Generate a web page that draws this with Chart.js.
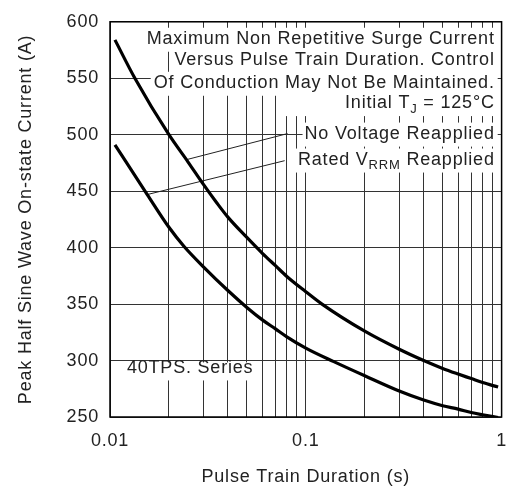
<!DOCTYPE html>
<html>
<head>
<meta charset="utf-8">
<script src="https://cdn.jsdelivr.net/npm/chart.js@4.4.1/dist/chart.umd.min.js"></script>
<style>
  html, body { margin: 0; padding: 0; background: #fff; }
  canvas { display: block; }
</style>
</head>
<body>
<canvas id="surge" width="520" height="493"></canvas>
<script>
// Pulse train duration (s) and peak current (A)
const durationNoVoltage = [0.0106, 0.0134, 0.02, 0.025, 0.03, 0.035, 0.04, 0.05, 0.06, 0.07, 0.08, 0.1, 0.121, 0.2, 0.3, 0.4, 0.5, 0.6, 0.7, 0.8, 0.96];
const currentNoVoltage = [584, 550, 500, 476, 456, 440, 427, 409, 395, 384, 374.5, 361, 350, 326, 310, 300, 293, 288, 284, 280.5, 276.5];

const durationRated = [0.0106, 0.0155, 0.02, 0.0239, 0.03, 0.04, 0.05, 0.06, 0.07, 0.08, 0.1, 0.139, 0.2, 0.3, 0.4, 0.5, 0.6, 0.7, 0.8, 0.96];
const currentRated = [491, 447, 418, 401, 383, 362, 347, 336, 328, 321, 311, 299, 286.5, 273, 265, 260, 257, 254, 252, 249.5];

// leader lines from the labels to the curves
const leaderNoVoltageX = [0.0247, 0.0807];
const leaderNoVoltageY = [478, 501];
const leaderRatedX = [0.0155, 0.078];
const leaderRatedY = [447, 477];

const xTickLabels = ['0.01', '0.1', '1'];
const yTicks = [250, 300, 350, 400, 450, 500, 550, 600];

const FONT = '"Liberation Sans", Arial, sans-serif';
const INK = '#222';

// grid at 1..9 of every decade
const xGrid = [];
[0.01, 0.1].forEach(d => { for (let m = 1; m < 10; m++) xGrid.push(+(d * m).toFixed(3)); });
xGrid.push(1);

const toPoints = (xs, ys) => xs.map((x, i) => ({ x: x, y: ys[i] }));

// annotation text, anchored in data units (y) and at the right of the plot
const notes = [
  { parts: [['Maximum Non Repetitive Surge Current']], y: 585, pad: 3 },
  { parts: [['Versus Pulse Train Duration. Control']], y: 566, pad: 3 },
  { parts: [['Of Conduction May Not Be Maintained.']], y: 546, pad: 3 },
  { parts: [['Initial T'], ['J', 'sub'], [' = 125°C']], y: 528, pad: 62 },
  { parts: [['No Voltage Reapplied']], y: 501, pad: 2 },
  { parts: [['Rated V'], ['RRM', 'sub'], [' Reapplied']], y: 478, pad: 2 }
];
const seriesNote = { text: '40TPS. Series', x: 0.0122, y: 293 };

const spacing = {
  id: 'spacing',
  beforeUpdate(chart) { chart.ctx.letterSpacing = '0.8px'; },
  beforeDraw(chart) { chart.ctx.letterSpacing = '0.8px'; }
};

const labels = {
  id: 'labels',
  afterDatasetsDraw(chart) {
    const { ctx, chartArea, scales } = chart;
    const xs = scales.x, ys = scales.y;
    ctx.save();
    ctx.letterSpacing = '0.8px';
    ctx.textBaseline = 'middle';
    ctx.textAlign = 'left';
    const right = xs.getPixelForValue(0.922);
    notes.forEach(n => {
      const cy = ys.getPixelForValue(n.y);
      let w = 0;
      n.parts.forEach(p => {
        ctx.font = (p[1] ? '13px ' : '18px ') + FONT;
        w += ctx.measureText(p[0]).width;
      });
      const left = right - w;
      ctx.fillStyle = '#fff';
      ctx.fillRect(left - n.pad, cy - 11, w + n.pad + 3, 24);
      let x = left;
      n.parts.forEach(p => {
        ctx.font = (p[1] ? '13px ' : '18px ') + FONT;
        ctx.fillStyle = INK;
        ctx.fillText(p[0], x, cy + (p[1] ? 6 : 0));
        x += ctx.measureText(p[0]).width;
      });
    });
    ctx.font = '18px ' + FONT;
    const sx = xs.getPixelForValue(seriesNote.x);
    const sy = ys.getPixelForValue(seriesNote.y);
    const sw = ctx.measureText(seriesNote.text).width;
    ctx.fillStyle = '#fff';
    ctx.fillRect(sx - 3, sy - 6, sw + 4, 18);
    ctx.fillStyle = INK;
    ctx.fillText(seriesNote.text, sx, sy);
    // plot frame
    ctx.strokeStyle = '#000';
    ctx.lineWidth = 1.5;
    ctx.strokeRect(chartArea.left, chartArea.top, chartArea.right - chartArea.left, chartArea.bottom - chartArea.top);
    ctx.restore();
  }
};

const curve = (pts) => ({
  data: pts,
  borderColor: '#000',
  borderWidth: 3.2,
  pointRadius: 0,
  cubicInterpolationMode: 'monotone',
  fill: false
});
const leader = (pts) => ({
  data: pts,
  borderColor: INK,
  borderWidth: 1,
  pointRadius: 0,
  tension: 0,
  fill: false
});

new Chart(document.getElementById('surge').getContext('2d'), {
  type: 'line',
  data: {
    datasets: [
      curve(toPoints(durationNoVoltage, currentNoVoltage)),
      curve(toPoints(durationRated, currentRated)),
      leader(toPoints(leaderNoVoltageX, leaderNoVoltageY)),
      leader(toPoints(leaderRatedX, leaderRatedY))
    ]
  },
  options: {
    responsive: false,
    animation: false,
    devicePixelRatio: 1,
    layout: { padding: { top: 16, right: 13, left: 0, bottom: 0 } },
    plugins: { legend: { display: false }, tooltip: { enabled: false } },
    scales: {
      x: {
        type: 'logarithmic',
        min: 0.01,
        max: 1,
        afterFit: s => { s.height = 76; },
        afterBuildTicks: s => { s.ticks = xGrid.map(v => ({ value: v })); },
        grid: { color: '#333', lineWidth: 1, drawTicks: false },
        border: { display: false },
        ticks: {
          autoSkip: false,
          maxRotation: 0,
          padding: 13,
          color: INK,
          font: { family: FONT, size: 18 },
          callback: v => { const t = String(+v.toFixed(3)); return xTickLabels.includes(t) ? t : ''; }
        },
        title: {
          display: true,
          text: 'Pulse Train Duration (s)',
          color: INK,
          font: { family: FONT, size: 18 },
          padding: { top: 0, bottom: 5 }
        }
      },
      y: {
        min: 250,
        max: 600,
        afterFit: s => { s.width = 110; },
        afterBuildTicks: s => { s.ticks = yTicks.map(v => ({ value: v })); },
        grid: { color: '#333', lineWidth: 1, drawTicks: false },
        border: { display: false },
        ticks: {
          padding: 11,
          color: INK,
          font: { family: FONT, size: 18 }
        },
        title: {
          display: true,
          text: 'Peak Half Sine Wave On-state Current (A)',
          color: INK,
          font: { family: FONT, size: 18 },
          padding: { top: 15, bottom: 0 }
        }
      }
    }
  },
  plugins: [spacing, labels]
});
</script>
</body>
</html>
